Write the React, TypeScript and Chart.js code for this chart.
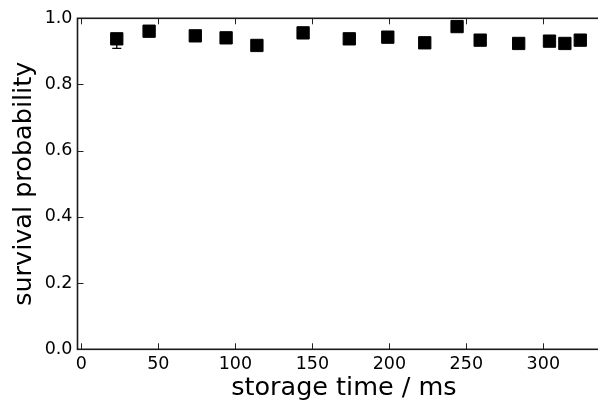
import React, { useEffect, useRef } from "react";
import { Chart, registerables } from "chart.js";

Chart.register(...registerables);

const storageTimes = [23, 44, 74, 94, 114, 144, 174, 199, 223, 244, 259, 284, 304, 314, 324];
const survival = [0.938, 0.961, 0.947, 0.941, 0.918, 0.956, 0.938, 0.943, 0.926, 0.975, 0.934, 0.924, 0.931, 0.924, 0.934];
const errLow = [0.029, 0.008, 0.008, 0.008, 0.008, 0.008, 0.008, 0.008, 0.008, 0.008, 0.008, 0.008, 0.008, 0.008, 0.008];
const errHigh = [0.014, 0.008, 0.008, 0.008, 0.008, 0.008, 0.008, 0.008, 0.008, 0.008, 0.008, 0.008, 0.008, 0.008, 0.008];
const xTickValues = [0, 50, 100, 150, 200, 250, 300];
const yTickValues = [0, 0.2, 0.4, 0.6, 0.8, 1.0];

const FONT = "'DejaVu Sans', sans-serif";

const framePlugin = {
  id: "frameTicks",
  beforeDatasetsDraw(chart: any) {
    const { ctx, chartArea } = chart;
    const { left, right, top, bottom } = chartArea;
    const xs = chart.scales.x;
    const ys = chart.scales.y;
    ctx.save();
    // error bars
    ctx.strokeStyle = "#000";
    ctx.lineWidth = 1.3;
    storageTimes.forEach((t, i) => {
      const px = xs.getPixelForValue(t);
      const pLo = ys.getPixelForValue(survival[i] - errLow[i]);
      const pHi = ys.getPixelForValue(survival[i] + errHigh[i]);
      ctx.beginPath();
      ctx.moveTo(px, pLo);
      ctx.lineTo(px, pHi);
      ctx.moveTo(px - 4.5, pLo);
      ctx.lineTo(px + 4.5, pLo);
      ctx.moveTo(px - 4.5, pHi);
      ctx.lineTo(px + 4.5, pHi);
      ctx.stroke();
    });
    // ticks
    ctx.strokeStyle = "#222";
    ctx.lineWidth = 1;
    xs.ticks.forEach((tk: any) => {
      const px = Math.round(xs.getPixelForValue(tk.value)) + 0.5;
      ctx.beginPath();
      ctx.moveTo(px, bottom);
      ctx.lineTo(px, bottom - 6);
      ctx.moveTo(px, top);
      ctx.lineTo(px, top + 6);
      ctx.stroke();
    });
    ys.ticks.forEach((tk: any) => {
      const py = Math.round(ys.getPixelForValue(tk.value)) + 0.5;
      ctx.beginPath();
      ctx.moveTo(left, py);
      ctx.lineTo(left + 6, py);
      ctx.moveTo(right, py);
      ctx.lineTo(right - 6, py);
      ctx.stroke();
    });
    // spines
    ctx.strokeStyle = "#1a1a1a";
    ctx.lineWidth = 1.6;
    ctx.strokeRect(left, top, right - left, bottom - top);
    ctx.restore();
  },
};

export default function App() {
  const ref = useRef<HTMLCanvasElement>(null);
  useEffect(() => {
    document.body.style.margin = "0";
    const canvas = ref.current!;
    const chart = new Chart(canvas, {
      type: "scatter",
      data: {
        datasets: [
          {
            data: storageTimes.map((t, i) => ({ x: t, y: survival[i] })),
            pointStyle: "rect",
            pointRadius: 8.7,
            pointHoverRadius: 8.7,
            backgroundColor: "#000",
            borderColor: "#000",
            borderWidth: 1,
          },
        ],
      },
      options: {
        animation: false,
        responsive: false,
        devicePixelRatio: 1,
        events: [],
        layout: { padding: { left: 0, top: 18.3, right: 9.7, bottom: 0 } },
        plugins: { legend: { display: false }, tooltip: { enabled: false } },
        scales: {
          x: {
            type: "linear",
            min: -2.5,
            max: 343.5,
            afterBuildTicks: (scale: any) => {
              scale.ticks = xTickValues.map((v) => ({ value: v }));
            },
            afterFit: (scale: any) => {
              scale.height = 51.7;
            },
            grid: { display: false, drawTicks: false },
            border: { display: false },
            ticks: {
              padding: 4.5,
              color: "#000",
              font: { family: FONT, size: 17.5 },
              callback: (v: any) => String(v),
            },
            title: {
              display: true,
              text: "storage time / ms",
              color: "#000",
              font: { family: FONT, size: 25.5, lineHeight: 1 },
              padding: { top: 0, bottom: 0 },
            },
          },
          y: {
            type: "linear",
            min: 0,
            max: 1,
            afterBuildTicks: (scale: any) => {
              scale.ticks = yTickValues.map((v) => ({ value: v }));
            },
            afterFit: (scale: any) => {
              scale.width = 77.5;
            },
            grid: { display: false, drawTicks: false },
            border: { display: false },
            ticks: {
              padding: 5,
              color: "#000",
              font: { family: FONT, size: 17.5 },
              callback: (v: any) => Number(v).toFixed(1),
            },
            title: {
              display: true,
              text: "survival probability",
              color: "#000",
              font: { family: FONT, size: 25.5, lineHeight: 1 },
              padding: { top: 12, bottom: 0 },
            },
          },
        },
      },
      plugins: [framePlugin],
    } as any);
    return () => chart.destroy();
  }, []);
  return (
    <div style={{ width: 598, height: 401, overflow: "hidden", background: "#fff" }}>
      <canvas ref={ref} width={620} height={401} style={{ display: "block" }} />
    </div>
  );
}
